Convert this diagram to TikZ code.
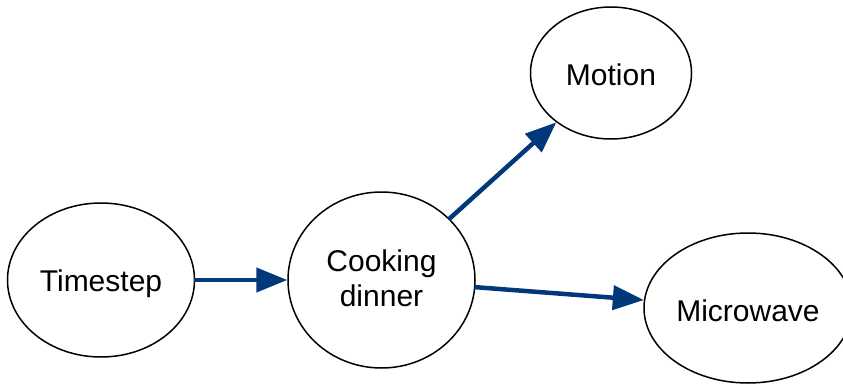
\documentclass[tikz,border=0pt]{standalone}
\usepackage{fontspec}
\setmainfont{Liberation Sans}
\usetikzlibrary{shapes.geometric,arrows.meta}
\definecolor{arrowblue}{RGB}{0,56,122}
\newcommand{\lowtext}[2]{\raisebox{-#1}[\height][\depth]{#2}}
\tikzset{
  stateell/.style={draw=black, line width=1.5pt, ellipse, inner sep=0pt, align=center,
    font=\fontsize{30}{35}\selectfont},
  bluearrow/.style={draw=arrowblue, line width=4.5pt,
    -{Triangle[length=31pt,width=24pt]}, shorten <=-1pt}
}
\begin{document}
\begin{tikzpicture}[x=1pt,y=-1pt]
\useasboundingbox (0,0) rectangle (843,385);
\clip (0,0) rectangle (843,385);
\node[stateell, minimum width=187pt, minimum height=154pt] (ts) at (101,280) {\lowtext{4pt}{Timestep}};
\node[stateell, minimum width=187pt, minimum height=176pt] (cd) at (381.5,280)
  {\lowtext{2pt}{\begin{tabular}{@{}c@{}}Cooking\\dinner\end{tabular}}};
\node[stateell, minimum width=161pt, minimum height=132pt] (mo) at (611,73) {\lowtext{2pt}{Motion}};
\node[stateell, minimum width=208pt, minimum height=150pt] (mw) at (748,308) {\lowtext{3pt}{Microwave}};
\draw[bluearrow] (ts) -- (cd);
\draw[bluearrow] (cd) -- (mo);
\draw[bluearrow] (cd) -- (mw);
\end{tikzpicture}
\end{document}
